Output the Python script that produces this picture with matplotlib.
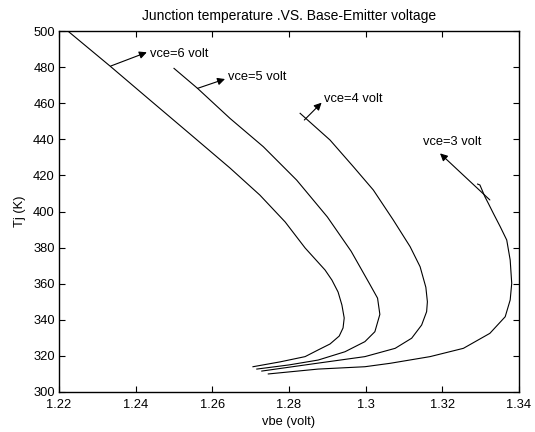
import numpy as np
import matplotlib
matplotlib.use("Agg")
import matplotlib.pyplot as plt
from matplotlib.ticker import FormatStrFormatter

plt.rcParams["font.family"] = ["Liberation Sans", "DejaVu Sans"]
plt.rcParams["font.size"] = 9

# curves (vbe in volt, Tj in K)
vce6_v = [1.2223, 1.2333, 1.2437, 1.2542, 1.2646, 1.2724, 1.2790, 1.2842, 1.2894,
          1.2912, 1.2928, 1.2938, 1.2944, 1.2941, 1.2931, 1.2907, 1.2876, 1.2842,
          1.2777, 1.2706]
vce6_T = [500, 480.6, 461.8, 442.9, 424.1, 409.1, 394.2, 379.8, 367.6,
          362.0, 355.4, 348.2, 341.0, 335.5, 331.0, 326.6, 323.3, 319.6,
          316.7, 314.0]

vce5_v = [1.2500, 1.2561, 1.2646, 1.2733, 1.2820, 1.2900, 1.2962, 1.3010, 1.3031,
          1.3037, 1.3024, 1.2998, 1.2946, 1.2876, 1.2800, 1.2716]
vce5_T = [479.3, 468.3, 451.6, 435.9, 417.4, 397, 378, 360, 352,
          343, 333.4, 327.9, 322.3, 317.7, 315, 312.7]

vce4_v = [1.2829, 1.2907, 1.2968, 1.3020, 1.3072, 1.3116, 1.3142, 1.3157, 1.3161,
          1.3159, 1.3146, 1.3120, 1.3077, 1.2998, 1.2876, 1.2729]
vce4_T = [454.4, 439.6, 424.8, 411.9, 395.3, 380.5, 369.4, 358, 350,
          344.5, 337.1, 329.8, 324.2, 319.6, 316, 311.6]

vce3_v = [1.3292, 1.3298, 1.3311, 1.3320, 1.3333, 1.3351, 1.3368, 1.3377, 1.3381,
          1.3377, 1.3364, 1.3324, 1.3255, 1.3168, 1.3064, 1.2998, 1.2876, 1.2746]
vce3_T = [415.2, 414.7, 408.2, 404.5, 399, 391.6, 384.2, 373.1, 360.2,
          351, 341.7, 332.5, 324.2, 319.6, 315.9, 314, 312.7, 310]

labels = ["vce=6 volt", "vce=5 volt", "vce=4 volt", "vce=3 volt"]
# arrow tail (on curve), arrow head, text anchor
arrow_tail = [(1.2335, 480.6), (1.2561, 468.2), (1.2840, 450.7), (1.3324, 406.4)]
arrow_head = [(1.2429, 488.2), (1.2633, 473.4), (1.2885, 460.3), (1.3194, 432.2)]
text_pos = [(1.2437, 487.5), (1.2642, 474.5), (1.2892, 462.2), (1.3150, 438.7)]

dpi = 100
fig = plt.figure(figsize=(535 / dpi, 432 / dpi), dpi=dpi)
ax = fig.add_axes([0.1103, 0.0926, 0.8598, 0.8356])

for v, t in [(vce6_v, vce6_T), (vce5_v, vce5_T), (vce4_v, vce4_T), (vce3_v, vce3_T)]:
    ax.plot(v, t, color="black", lw=0.8)

for lab, tail, head, tp in zip(labels, arrow_tail, arrow_head, text_pos):
    ax.annotate("", xy=head, xytext=tail,
                arrowprops=dict(arrowstyle="-|>", color="black", lw=0.8,
                                mutation_scale=11, shrinkA=0, shrinkB=0))
    ax.text(tp[0], tp[1], lab, ha="left", va="center", fontsize=9.3)

ax.set_xlim(1.22, 1.34)
ax.set_ylim(300, 500)
ax.set_xticks(np.arange(1.22, 1.3401, 0.02))
ax.set_yticks(np.arange(300, 501, 20))
ax.xaxis.set_major_formatter(FormatStrFormatter("%g"))
ax.tick_params(direction="in", top=True, right=True, length=4, width=0.8, labelsize=9.3)
ax.tick_params(axis="x", pad=5)
ax.tick_params(axis="y", pad=3)
for s in ax.spines.values():
    s.set_linewidth(1.0)

ax.set_title("Junction temperature .VS. Base-Emitter voltage", fontsize=10, pad=8)
ax.set_xlabel("vbe (volt)", fontsize=9.3, labelpad=4)
ax.set_ylabel("Tj (K)", fontsize=9.3, labelpad=5)

fig.savefig("out.png", dpi=dpi)
plt.close()
